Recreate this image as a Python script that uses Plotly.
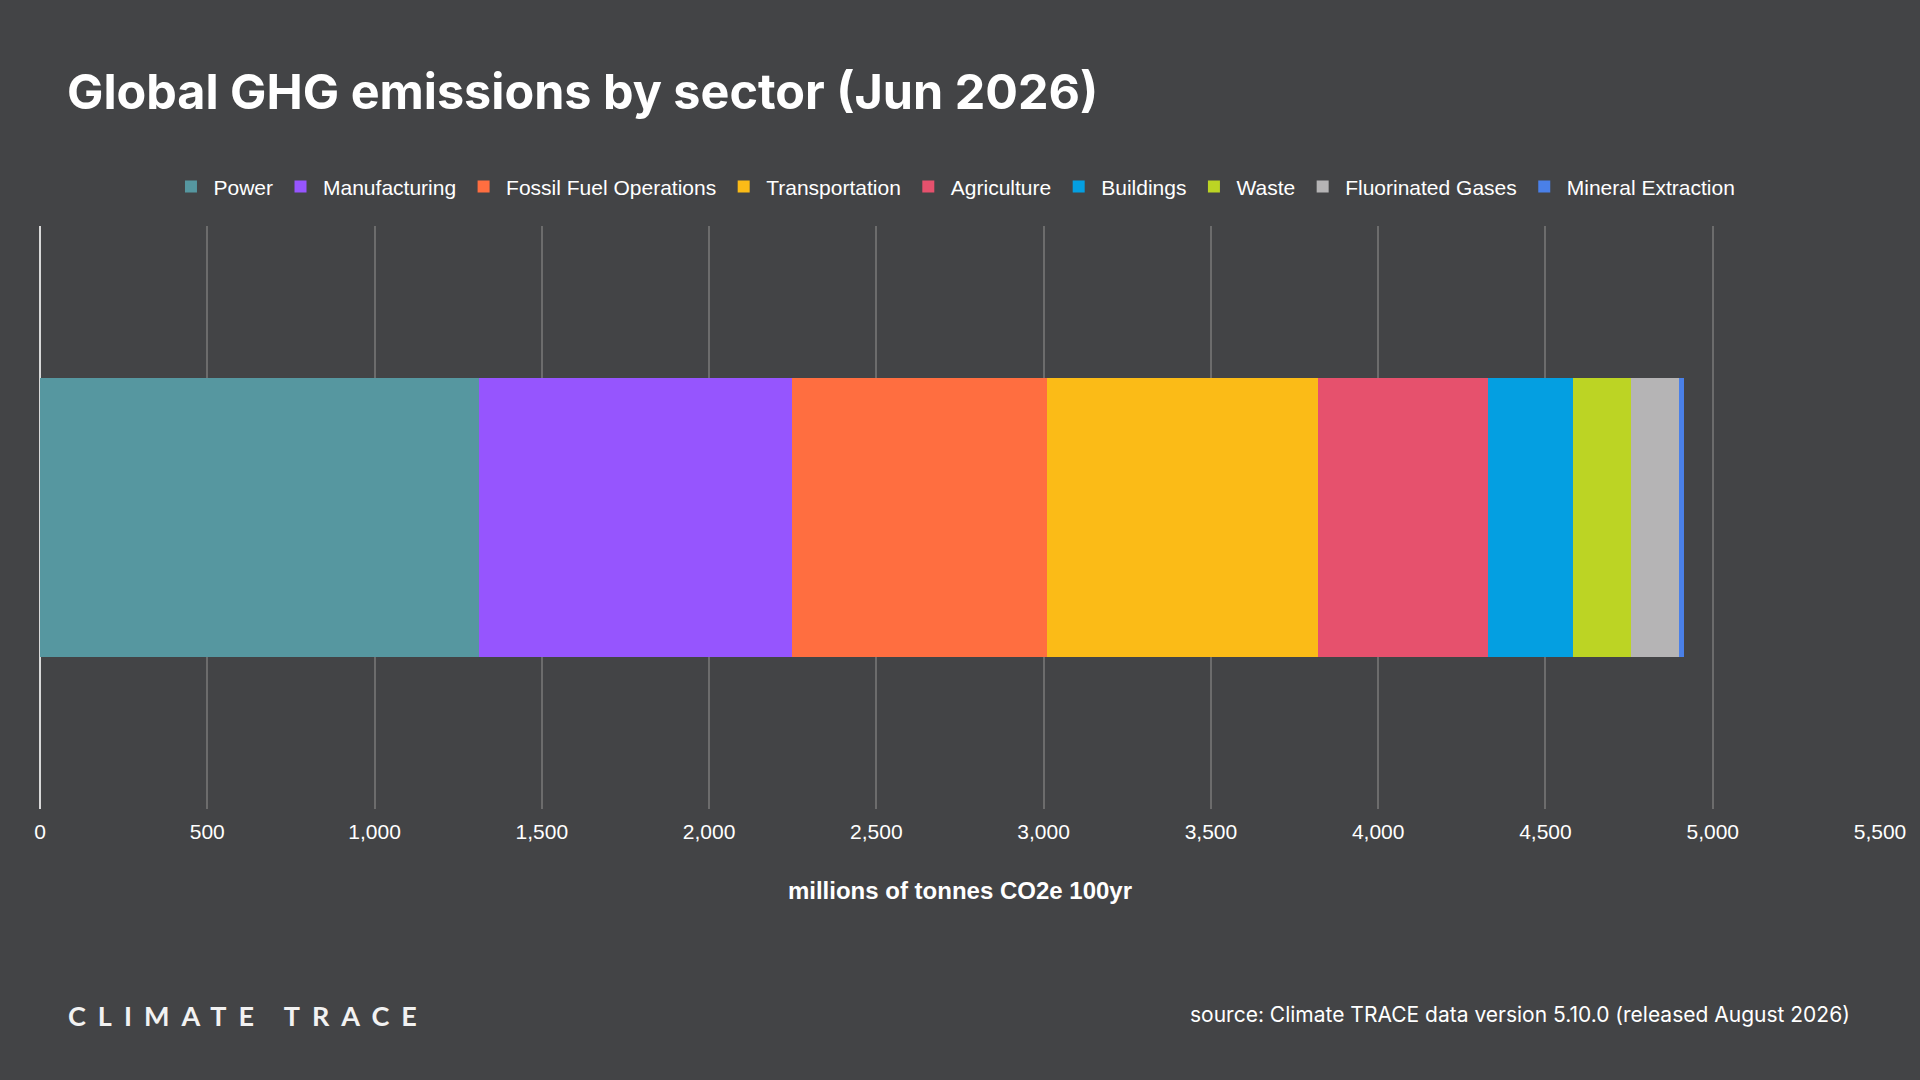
import plotly.graph_objects as go

# sector totals, millions of tonnes CO2e (100yr GWP)
sectors = ["Power", "Manufacturing", "Fossil Fuel Operations", "Transportation",
           "Agriculture", "Buildings", "Waste", "Fluorinated Gases", "Mineral Extraction"]
emissions = [1311, 938, 762, 810, 508, 252, 174, 144, 15]
colors = ["#5697a0", "#9655fe", "#ff6e40", "#fbbb17", "#e6516d",
          "#049fe1", "#bcd424", "#b5b4b5", "#4a80e8"]
row = ["Global"]
x_ticks = [0, 500, 1000, 1500, 2000, 2500, 3000, 3500, 4000, 4500, 5000, 5500]

bg = "#434446"

fig = go.Figure()
for name, val, col in zip(sectors, emissions, colors):
    fig.add_trace(go.Bar(x=[val], y=row, orientation="h", name=name,
                         marker=dict(color=col, line=dict(width=0))))

fig.update_layout(
    width=1920, height=1080,
    paper_bgcolor=bg, plot_bgcolor=bg,
    barmode="stack", bargap=0.52,
    margin=dict(l=40, r=40, t=226, b=271),
    font=dict(family="Liberation Sans, Arial, sans-serif", color="white", size=21),
    title=dict(text="<b>Global GHG emissions by sector (Jun 2026)</b>",
               x=67 / 1920, xanchor="left", xref="container",
               y=1 - 92 / 1080, yanchor="middle", yref="container",
               font=dict(family="Inter, Roboto, sans-serif", size=48.5, color="white")),
    legend=dict(orientation="h", x=0.497, xanchor="center", y=1.067, yanchor="middle",
                font=dict(size=21, color="white"), traceorder="normal",
                itemwidth=35, itemclick=False, bgcolor="rgba(0,0,0,0)"),
    showlegend=True,
)

fig.update_xaxes(range=[0, 5500], tickvals=x_ticks, tickformat=",d",
                 showgrid=True, gridcolor="#6c6c6c", gridwidth=1.5,
                 zeroline=True, zerolinecolor="#d8d8d8", zerolinewidth=2,
                 showline=False, ticks="", ticklabelstandoff=8,
                 tickfont=dict(size=21, color="white"),
                 title=dict(text="<b>millions of tonnes CO2e 100yr</b>",
                            font=dict(size=24, color="white"), standoff=40))
fig.update_yaxes(showticklabels=False, showgrid=False, zeroline=False)

fig.add_annotation(text='<b><span style="letter-spacing:12px">CLIMATE TRACE</span></b>',
                   xref="paper", yref="paper", x=(66 - 40) / 1840, y=-(1015 - 809) / 583,
                   xanchor="left", yanchor="middle", showarrow=False,
                   font=dict(family="Lato, sans-serif", size=27, color="#f2f2f2"))
fig.add_annotation(text="source: Climate TRACE data version 5.10.0 (released August 2026)",
                   xref="paper", yref="paper", x=(1852 - 40) / 1840, y=-(1014 - 809) / 583,
                   xanchor="right", yanchor="middle", showarrow=False,
                   font=dict(family="Inter, sans-serif", size=21, color="white"))

fig.write_html("out.html", config={"displayModeBar": False},
               post_script="document.body.style.margin='0';document.body.style.overflow='hidden';")
